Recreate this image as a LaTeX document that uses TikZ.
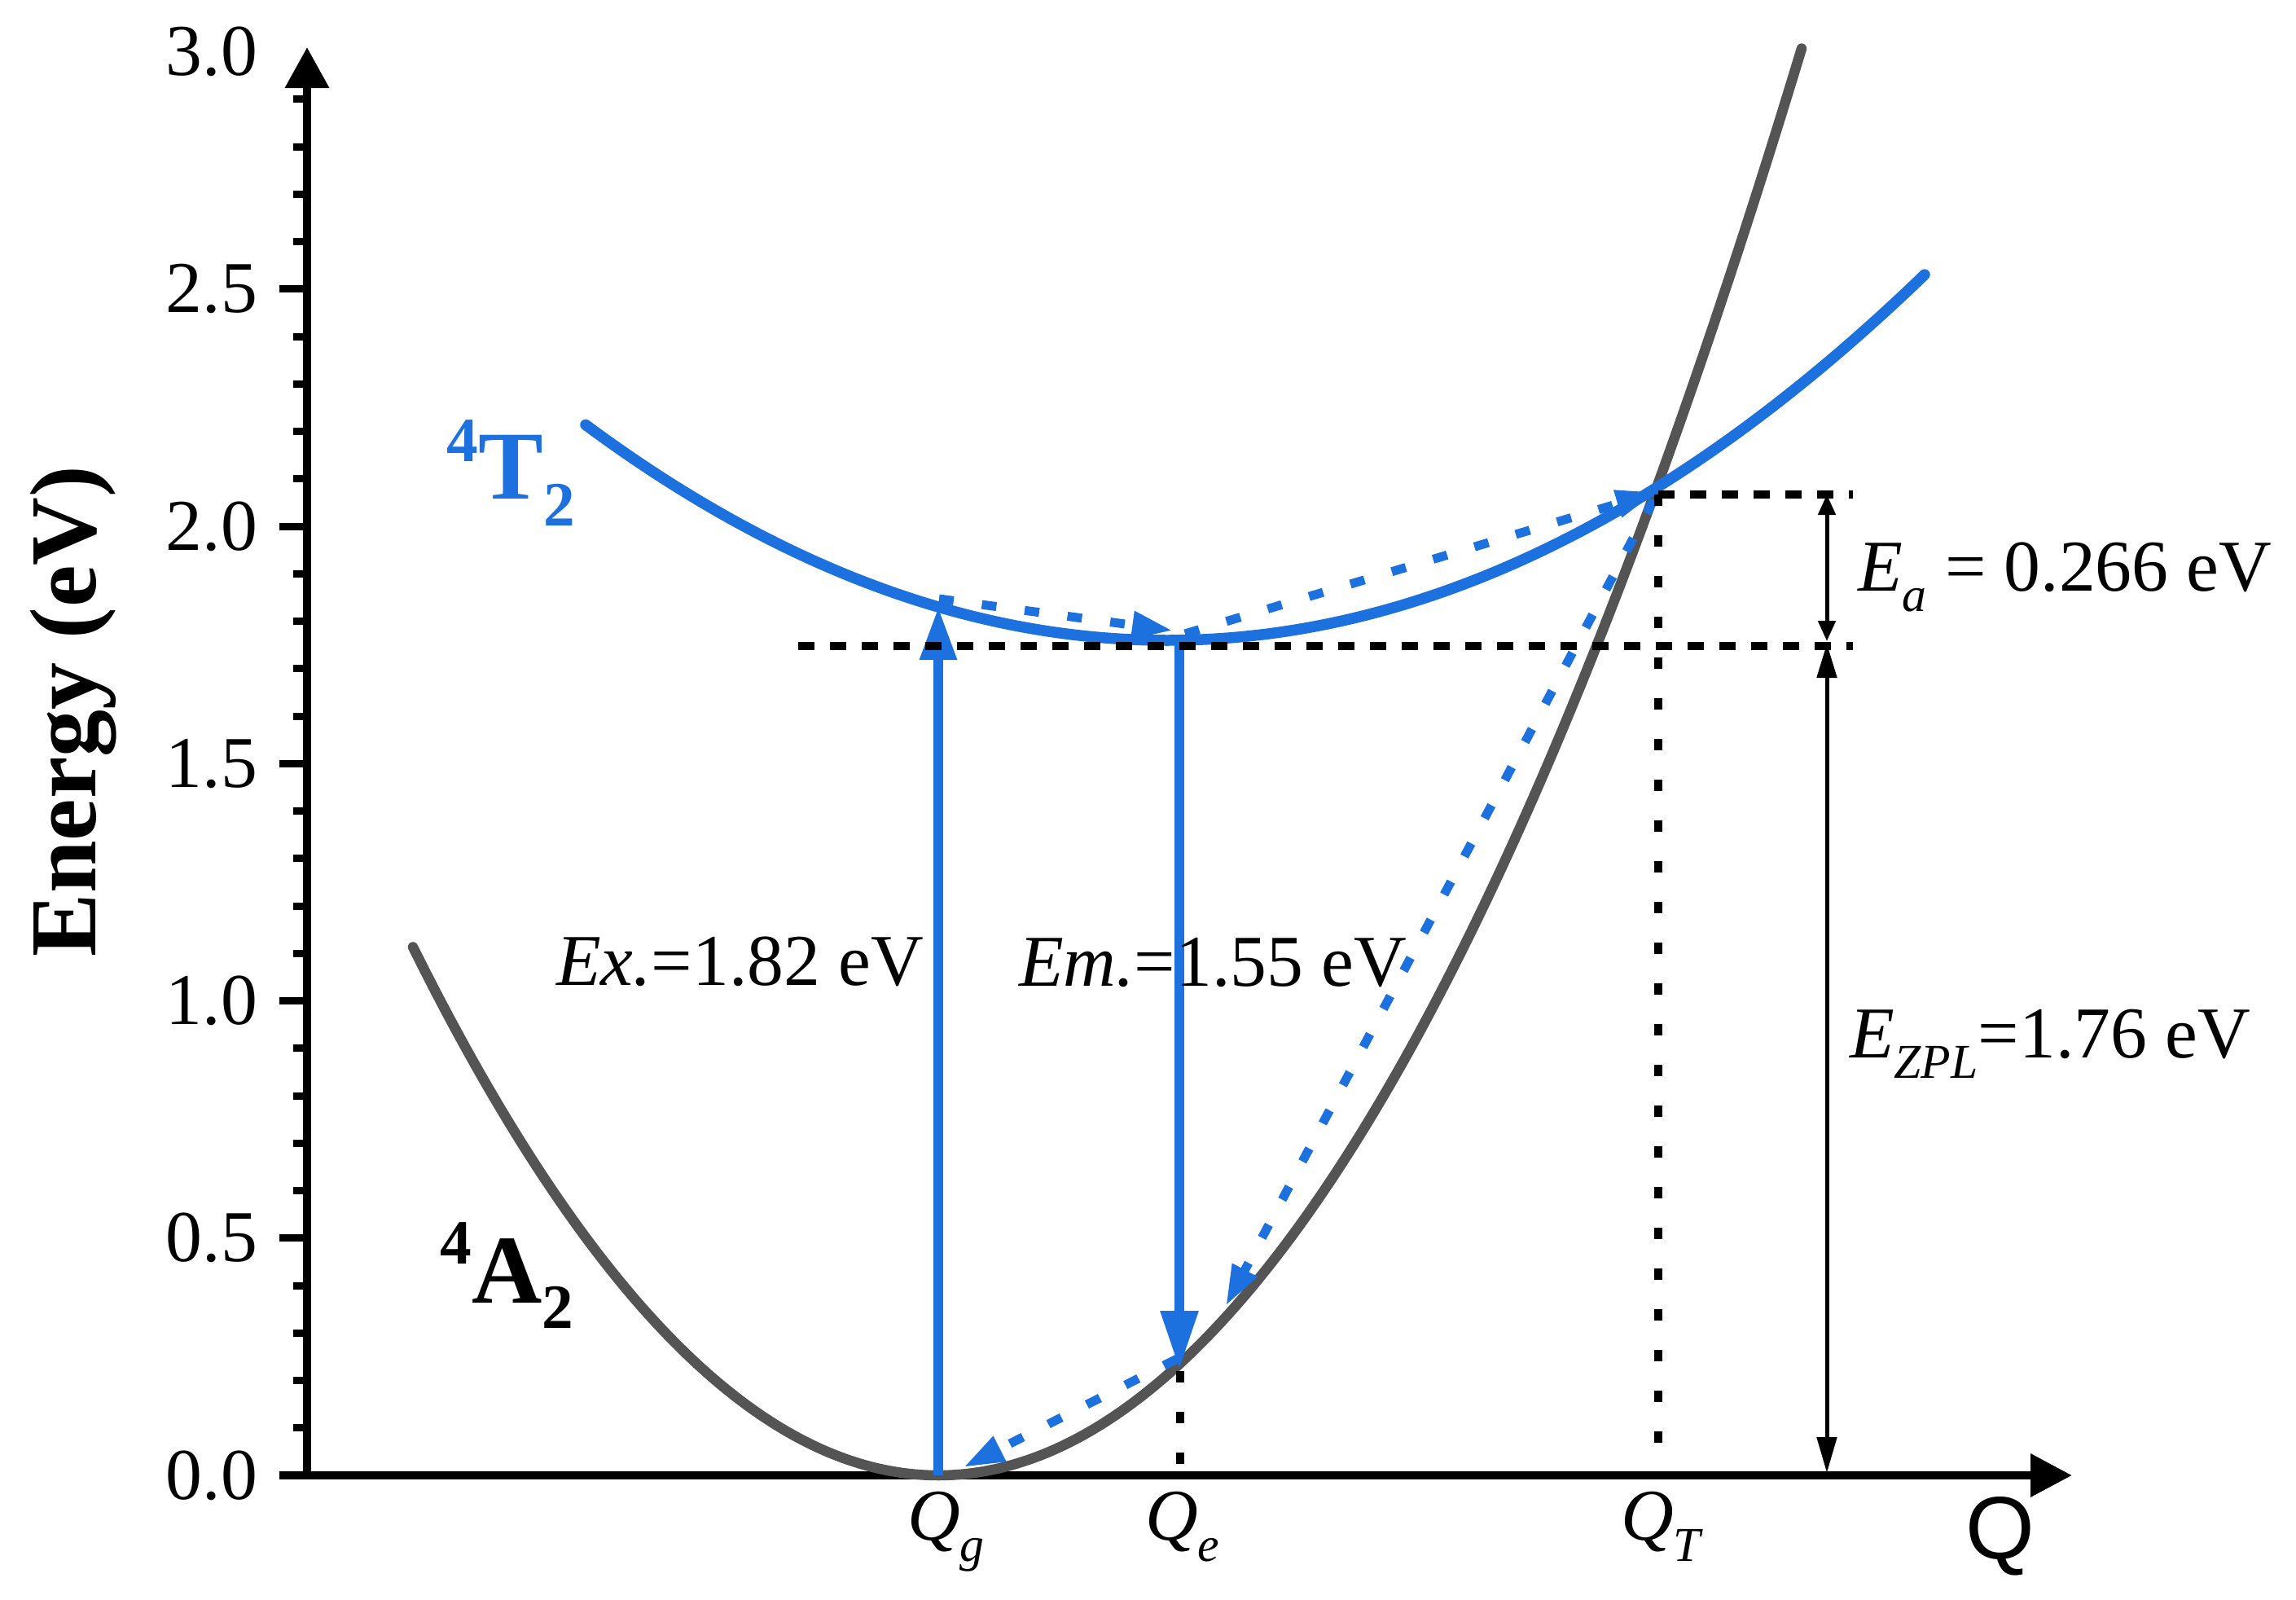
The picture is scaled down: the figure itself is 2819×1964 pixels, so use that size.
\documentclass[tikz,border=0pt]{standalone}
\usepackage{fontspec}
\setmainfont{Liberation Serif}
\newfontfamily\qsans{Liberation Sans}
\usetikzlibrary{arrows.meta}
\definecolor{cblue}{RGB}{28,113,222}
\definecolor{cgray}{RGB}{84,84,84}
\newcommand{\fs}[1]{\fontsize{#1}{#1}\selectfont}
\begin{document}
\begin{tikzpicture}[x=0.1mm,y=-0.1mm,
  lab/.style={inner sep=0pt, outer sep=0pt, font=\fs{25.5pt}},
  axisline/.style={line width=1mm, black},
  majtick/.style={line width=0.9mm, black},
  mintick/.style={line width=0.9mm, black},
  graycurve/.style={cgray, line width=1.25mm, line cap=round},
  bluecurve/.style={cblue, line width=1.35mm, line cap=round},
  barrow/.style={cblue, line width=1.2mm},
  bdot/.style={cblue, line width=1.1mm, dash pattern=on 1.8mm off 3.5mm},
  hdash/.style={black, line width=0.95mm, dash pattern=on 2mm off 1.9mm},
  vdash/.style={black, line width=0.95mm, dash pattern=on 1.4mm off 3.6mm},
  thinarrow/.style={black, line width=0.5mm}]
\useasboundingbox (0,0) rectangle (2819,1964);

% axes
\coordinate (ybot) at (377,1816);
\coordinate (ytop) at (377,58);
\coordinate (xleft) at (343,1811);
\coordinate (xright) at (2544,1811);
\draw[axisline, -{Triangle[length=5mm,width=5.2mm]}] (ybot) -- (ytop);
\draw[axisline, -{Triangle[length=5.1mm,width=5.1mm]}] (xleft) -- (xright);

% ticks
\foreach \e in {0.5,1.0,1.5,2.0,2.5}
  \draw[majtick] (343,{1811-582.5*\e}) -- (377,{1811-582.5*\e});
\foreach \i in {1,2,3,4,6,7,8,9,11,12,13,14,16,17,18,19,21,22,23,24,26,27,28,29}
  \draw[mintick] (360,{1811-58.25*\i}) -- (377,{1811-58.25*\i});
\foreach \e/\t [count=\k] in {0/0.0,0.5/0.5,1/1.0,1.5/1.5,2/2.0,2.5/2.5,3/3.0}
  \node[lab, anchor=east] (tl\k) at (316,{1811-582.5*\e}) {\t};

\node[rotate=90, anchor=base west, inner sep=0pt, font=\bfseries\fs{33pt}] (ylab) at (117,1175) {Energy (eV)};

% potential curves
\draw[graycurve] plot[domain=507:2212, samples=140, smooth] (\x, {1811-15.588*((\x-1152)/100)^2});
\draw[bluecurve] plot[domain=719:2363, samples=140, smooth] (\x, {786-5.19*((\x-1433)/100)^2});

% key points
\coordinate (Qg0) at (1152,1811);
\coordinate (Qgup) at (1152,745);
\coordinate (Qe0) at (1448,787);
\coordinate (Qedown) at (1448,1681);
\coordinate (d1s) at (1153,735);
\coordinate (d1e) at (1440,774);
\coordinate (d2s) at (1455,778);
\coordinate (d2e) at (2034,604);
\coordinate (d3s) at (2030,614);
\coordinate (d3e) at (1505,1603);
\coordinate (d4s) at (1445,1668);
\coordinate (d4e) at (1183,1801);

% solid blue transitions
\draw[barrow, -{Triangle[length=6.5mm,width=4.3mm]}] (Qg0) -- (Qgup);
\draw[barrow, -{Triangle[length=7.2mm,width=4.4mm]}] (Qe0) -- (Qedown);

% dotted relaxations
\draw[bdot, -{Triangle[length=5mm,width=3.2mm]}] (d1s) -- (d1e);
\draw[bdot, -{Triangle[length=5mm,width=3.2mm]}] (d2s) -- (d2e);
\draw[bdot, -{Triangle[length=5mm,width=3.2mm]}] (d3s) -- (d3e);
\draw[bdot, -{Triangle[length=5mm,width=3.2mm]}] (d4s) -- (d4e);

% black dashed guides
\coordinate (hl1) at (980,793);
\coordinate (hr1) at (2275,793);
\coordinate (hl2) at (2036,607);
\coordinate (hr2) at (2275,607);
\coordinate (vTb) at (2036,1811);
\coordinate (vEt) at (1449,1683);
\coordinate (vEb) at (1449,1811);
\draw[hdash] (hl1) -- (hr1);
\draw[hdash] (hl2) -- (hr2);
\draw[vdash] (hl2) -- (vTb);
\draw[vdash] (vEt) -- (vEb);

% energy arrows
\coordinate (zt) at (2243,790);
\coordinate (zb) at (2243,1808);
\coordinate (at) at (2243,607);
\coordinate (ab) at (2243,787);
\draw[thinarrow, {Triangle[length=4.2mm,width=2.4mm]}-{Triangle[length=4.4mm,width=2.4mm]}] (zt) -- (zb);
\draw[thinarrow, {Triangle[length=2.5mm,width=2.1mm]}-{Triangle[length=2.5mm,width=2.1mm]}] (at) -- (ab);

% labels
\node[lab, anchor=base west] (ex) at (683,1209) {\textit{Ex.}=1.82 eV};
\node[lab, anchor=base west] (em) at (1251,1210) {\textit{Em.}=1.55 eV};
\node[lab, anchor=base west] (ezpl) at (2271,1298) {\textit{E}\raisebox{-2.5mm}{\fs{17pt}\textit{ZPL}}=1.76 eV};
\node[lab, anchor=base west] (ea) at (2281,725) {\textit{E}\raisebox{-2.5mm}{\fs{17pt}\textit{a}} = 0.266 eV};

\node[lab, anchor=base west] (qg) at (1114,1890) {\textit{Q}\raisebox{-2.6mm}{\fs{17pt}\textit{g}}};
\node[lab, anchor=base west] (qe) at (1406,1890) {\textit{Q}\raisebox{-2.6mm}{\fs{17pt}\textit{e}}};
\node[lab, anchor=base west] (qt) at (1990,1890) {\textit{Q}\raisebox{-2.6mm}{\fs{17pt}\textit{T}}};
\node[inner sep=0pt, anchor=base west, font=\qsans\fs{31pt}] (q) at (2413,1913) {Q};

\node[inner sep=0pt, anchor=base west, text=cblue, font=\bfseries\fs{34pt}] (t2) at (548,612) {\raisebox{4.6mm}{\fs{22pt}4}T\raisebox{-3.3mm}{\fs{22pt}2}};
\node[inner sep=0pt, anchor=base west, font=\bfseries\fs{34pt}] (a2) at (540,1599) {\raisebox{4.8mm}{\fs{22pt}4}A\raisebox{-3.1mm}{\fs{22pt}2}};
\end{tikzpicture}
\end{document}
